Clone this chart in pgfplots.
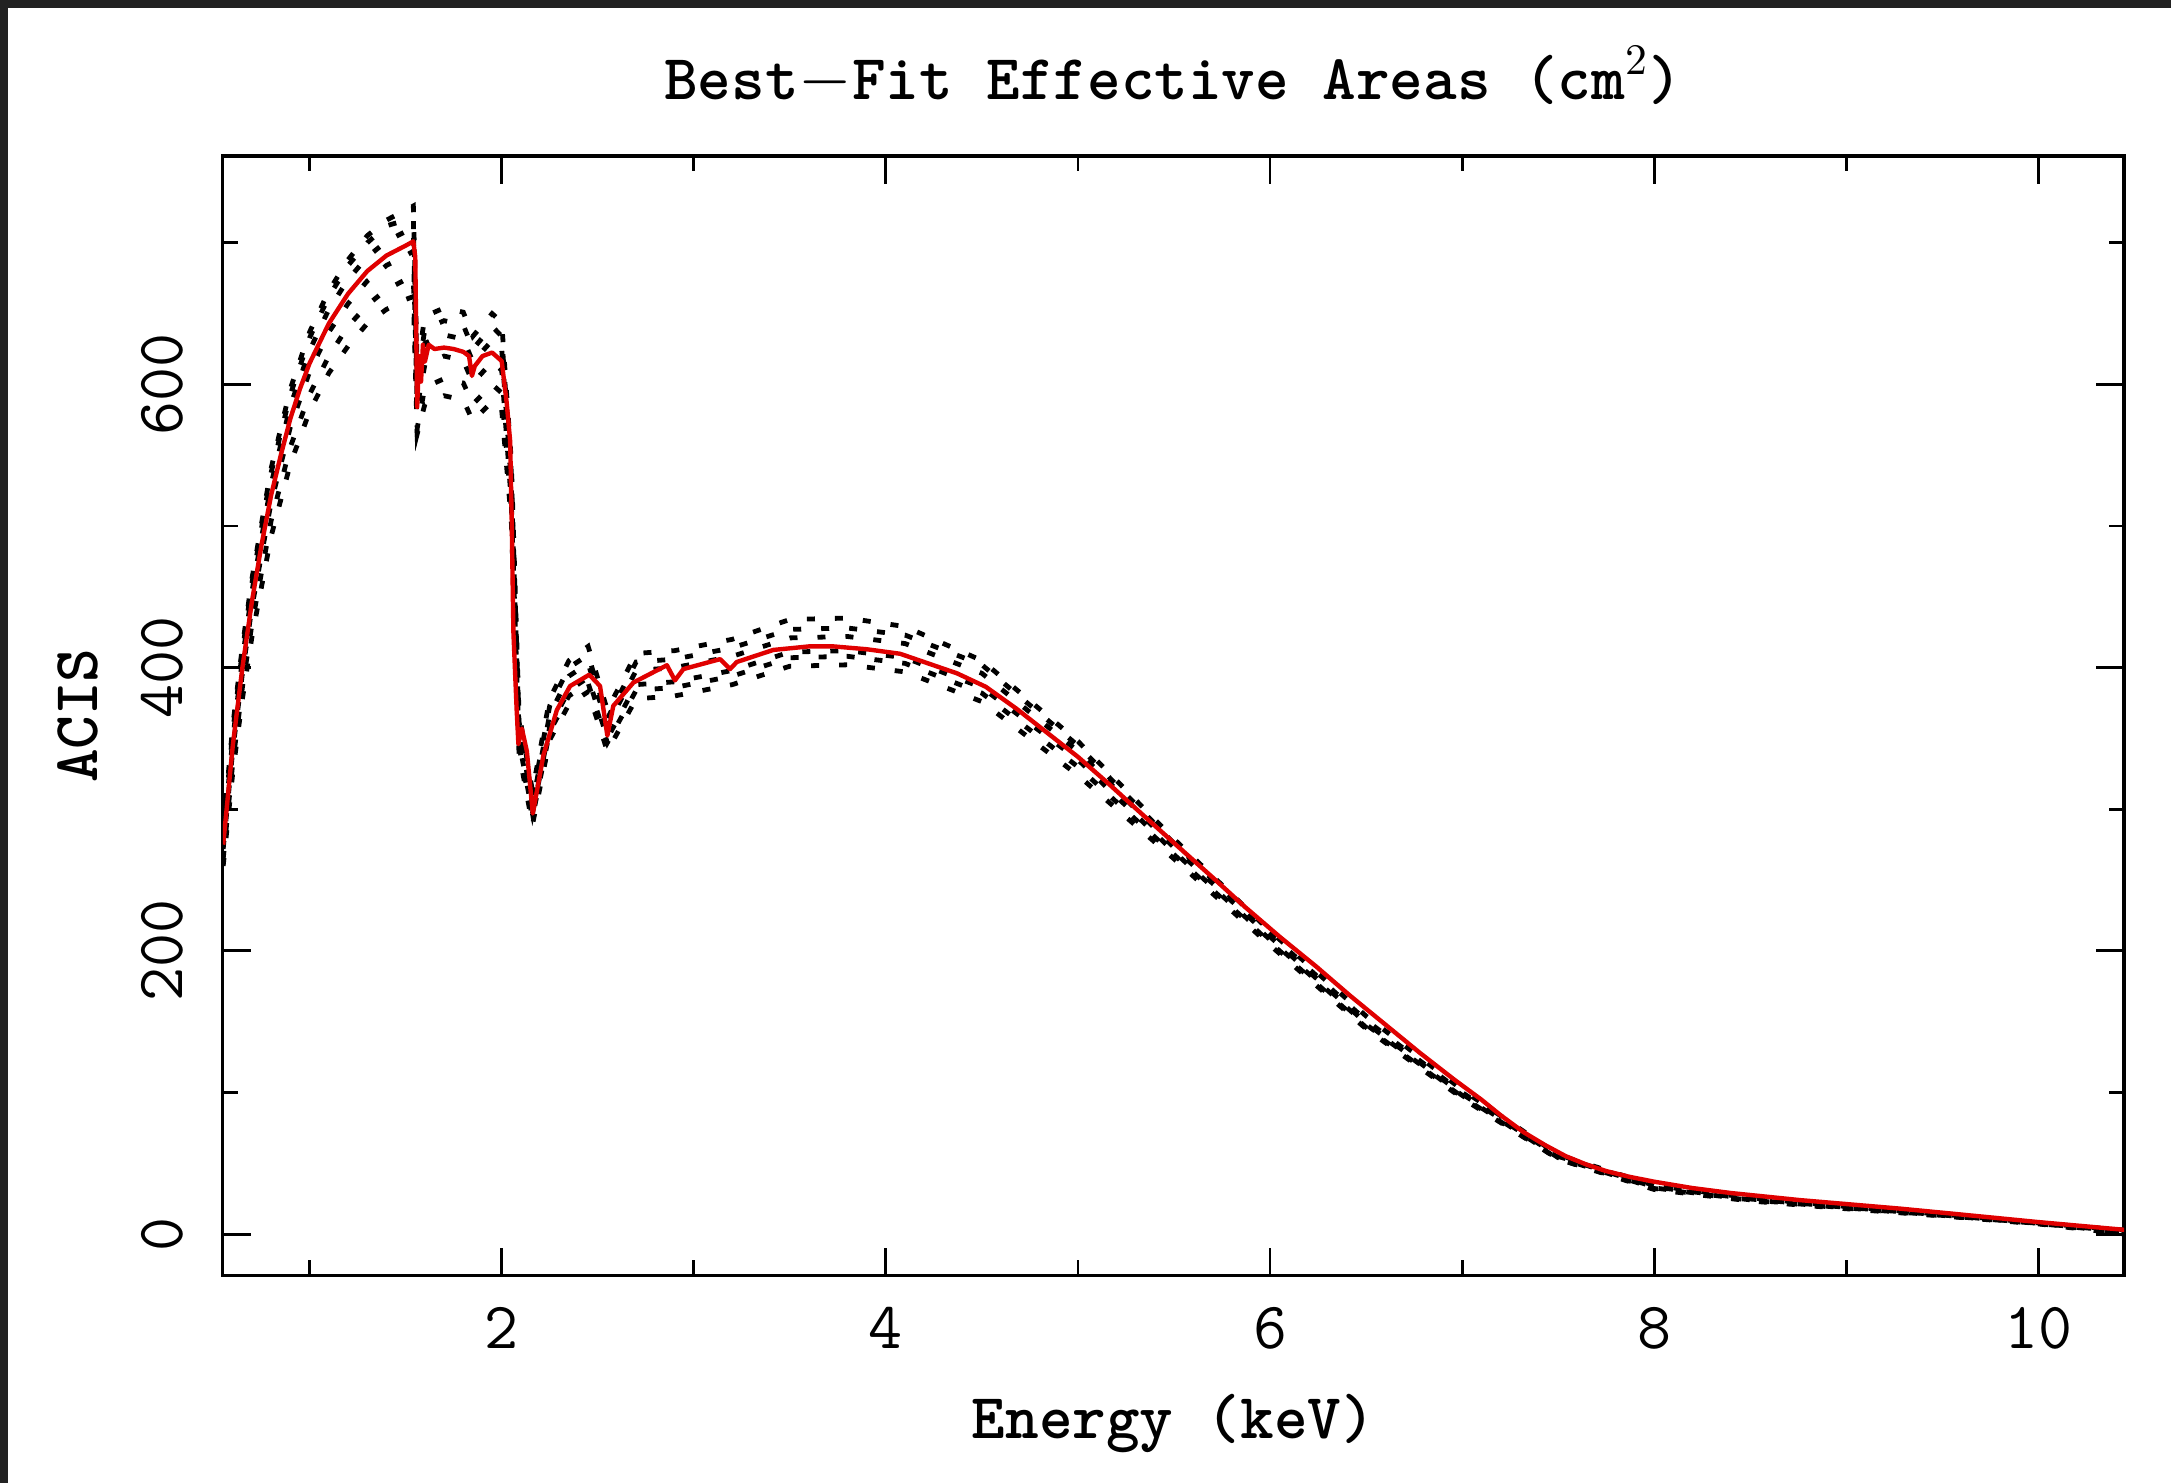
\documentclass[border=0pt]{standalone}
\usepackage{fontspec}
\usepackage{pgfplots}
\pgfplotsset{compat=1.18}
\definecolor{frame}{HTML}{222222}
\definecolor{fitred}{HTML}{E00000}
\newcommand{\lab}{\ttfamily\bfseries\fontsize{16bp}{19bp}\selectfont}
\newcommand{\tlab}{\ttfamily\fontsize{16.5bp}{19bp}\selectfont}
\begin{document}
\begin{tikzpicture}
\useasboundingbox (-55.7bp,-51.9bp) rectangle (487.05bp,318.9bp);
\fill[white] (-55.7bp,-51.9bp) rectangle (487.05bp,318.9bp);
\fill[frame] (-55.7bp,-51.9bp) rectangle (-53.7bp,318.9bp);
\fill[frame] (-55.7bp,316.9bp) rectangle (487.05bp,318.9bp);
\begin{axis}[
  scale only axis, width=475.3bp, height=279.9bp,
  at={(0,0)}, anchor=south west,
  xmin=0.548, xmax=10.446, ymin=-29.3, ymax=761.3,
  xtick={2,4,6,8,10}, minor xtick={1,3,5,7,9},
  ytick={0,200,400,600}, minor ytick={100,300,500,700},
  xtick pos=both, ytick pos=both, tick align=inside,
  major tick length=7bp, minor tick length=3.8bp,
  axis line style={line width=0.8bp},
  every tick/.style={line width=0.7bp, black},
  /pgf/number format/assume math mode=true,
  ticklabel style={font=\tlab},
  xticklabel style={anchor=north, inner sep=0pt, outer ysep=7.9bp},
  yticklabel style={rotate=90, anchor=south, inner sep=0pt, outer ysep=10bp},
  title={Best$-$Fit Effective Areas (cm$^{2}$)},
  title style={font=\lab, at={(axis description cs:0.5,1)}, anchor=base, yshift=8.25bp},
  xlabel={Energy (keV)},
  xlabel style={font=\lab, at={(axis description cs:0.5,0)}, anchor=base, yshift=-40.6bp},
  ylabel={ACIS},
  ylabel style={font=\lab, at={(axis description cs:-0.0659,0.5)}, rotate=0, anchor=base},
  dotstyle/.style={black, line width=1.2bp, dash pattern=on 2bp off 5bp},
]
% dotted realisations
\addplot[dotstyle] table {
0.55 286
0.6 359
0.65 415
0.7 463
0.8 541
0.9 597
1.0 637
1.1 666
1.2 688
1.3 705
1.4 716
1.5 723
1.54 726
1.56 612
1.6 648
1.7 654
1.8 651
1.85 634
1.95 650
2.0 644
2.05 546
2.09 368
2.16 313
2.25 378
2.35 405
2.45 415
2.55 370
2.7 410
2.9 412
3.2 420
3.5 434
3.8 435
4.1 429
4.5 405
5.0 348
5.5 279
6.0 214
6.5 154
7.0 102
7.5 56
8.0 34.4
8.5 25.6
9.0 19.5
9.5 14
10.0 7.9
10.45 2.8
};
\addplot[dotstyle] table {
0.55 283
0.6 355
0.65 412
0.7 460
0.8 538
0.9 593
1.0 633
1.1 662
1.2 684
1.3 700
1.4 712
1.5 716
1.54 717
1.56 604
1.6 639
1.7 645
1.8 642
1.85 625
1.95 641
2.0 634
2.05 538
2.09 362
2.16 308
2.25 373
2.35 400
2.45 409
2.55 364
2.7 404
2.9 406
3.2 414
3.5 427
3.8 428
4.1 423
4.5 402
5.0 345
5.5 276
6.0 212
6.5 151
7.0 100
7.5 55
8.0 34
8.5 25.3
9.0 19.3
9.5 13.8
10.0 7.8
10.45 2.2
};
\addplot[dotstyle] table {
0.55 279
0.6 350
0.65 406
0.7 454
0.8 530
0.9 585
1.0 624
1.1 653
1.2 674
1.3 690
1.4 701
1.5 708
1.54 710
1.56 596
1.6 629
1.7 635
1.8 632
1.85 616
1.95 631
2.0 625
2.05 530
2.09 357
2.16 304
2.25 367
2.35 394
2.45 403
2.55 359
2.7 398
2.9 400
3.2 408
3.5 421
3.8 422
4.1 417
4.5 396
5.0 341
5.5 273
6.0 210
6.5 149
7.0 99
7.5 55
8.0 33.3
8.5 24.8
9.0 18.9
9.5 13.5
10.0 7.6
10.45 1.8
};
\addplot[dotstyle] table {
0.55 272
0.6 342
0.65 396
0.7 443
0.8 517
0.9 570
1.0 609
1.1 637
1.2 657
1.3 673
1.4 684
1.5 691
1.54 694
1.56 584
1.6 614
1.7 620
1.8 617
1.85 601
1.95 616
2.0 610
2.05 517
2.09 348
2.16 297
2.25 358
2.35 384
2.45 393
2.55 350
2.7 388
2.9 390
3.2 398
3.5 411
3.8 412
4.1 407
4.5 386
5.0 335
5.5 270
6.0 208
6.5 148
7.0 98
7.5 54
8.0 32.6
8.5 24.2
9.0 18.5
9.5 13.2
10.0 7.5
10.45 1.2
};
\addplot[dotstyle] table {
0.55 265
0.6 333
0.65 386
0.7 431
0.8 504
0.9 556
1.0 593
1.1 620
1.2 641
1.3 656
1.4 667
1.5 674
1.54 676
1.56 569
1.6 598
1.7 604
1.8 601
1.85 586
1.95 600
2.0 594
2.05 512
2.09 345
2.16 294
2.25 355
2.35 380
2.45 389
2.55 347
2.7 384
2.9 386
3.2 394
3.5 407
3.8 408
4.1 403
4.5 382
5.0 330
5.5 268
6.0 206
6.5 146
7.0 97
7.5 53
8.0 32.2
8.5 23.9
9.0 18.3
9.5 13
10.0 7.4
10.45 0.6
};
\addplot[dotstyle] table {
0.55 260
0.6 326
0.65 378
0.7 422
0.8 493
0.9 544
1.0 581
1.1 608
1.2 627
1.3 643
1.4 653
1.5 660
1.54 662
1.56 565
1.6 586
1.7 592
1.8 589
1.85 574
1.95 588
2.0 582
2.05 504
2.09 340
2.16 289
2.25 349
2.35 374
2.45 383
2.55 341
2.7 378
2.9 380
3.2 388
3.5 401
3.8 402
4.1 397
4.5 376
5.0 324
5.5 265
6.0 204
6.5 145
7.0 96
7.5 53
8.0 31.5
8.5 23.4
9.0 17.9
9.5 12.8
10.0 7.2
10.45 0
};
% best fit
\addplot[fitred, line width=1.1bp, line join=round] table {
0.55 275
0.60 345
0.65 400
0.70 447
0.75 487
0.80 522
0.85 550
0.90 576
0.95 597
1.00 615
1.10 643
1.20 664
1.30 680
1.40 691
1.50 698
1.54 701
1.55 690
1.56 584
1.57 620
1.58 602
1.59 628
1.60 616
1.62 628
1.65 625
1.70 626
1.75 625
1.80 623
1.83 620
1.845 606
1.86 613
1.90 620
1.95 622.5
2.00 616.5
2.026 587
2.044 560
2.052 505
2.061 425
2.078 370
2.087 346
2.105 357
2.131 341
2.162 297
2.217 338
2.287 370
2.356 387
2.456 395
2.512 387
2.55 352
2.581 373
2.686 389.5
2.86 401.7
2.902 391
2.946 399
3.137 406
3.189 399
3.224 404
3.414 412.5
3.60 415
3.727 415
3.90 413
4.074 409.8
4.22 403
4.37 396
4.52 386.5
4.68 371
4.84 354
5.00 337
5.16 318
5.33 297
5.51 275
5.70 252
5.87 231
6.05 210
6.24 189
6.42 168
6.60 148
6.78 128
6.96 109
7.10 95
7.20 84
7.32 72
7.43 63
7.54 55
7.65 49
7.75 44.5
7.87 40.5
8.00 37
8.20 32.5
8.40 29
8.76 24
9.28 18
9.54 14.6
10.00 8.5
10.45 3
};
\end{axis}
\end{tikzpicture}
\end{document}
